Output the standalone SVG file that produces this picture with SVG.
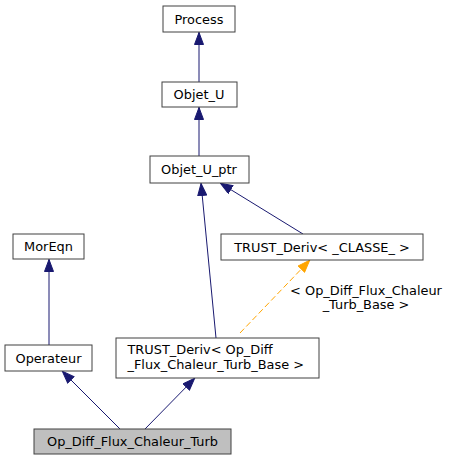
<svg xmlns="http://www.w3.org/2000/svg" width="451" height="460" viewBox="0 0 451 460">
<style>
.n rect{fill:#fff;stroke:#404040;stroke-width:1}
.n.h rect{fill:#bfbfbf}
text{font-family:"DejaVu Sans",sans-serif;font-size:12.9px;fill:#000}
.c{text-anchor:middle}
.e{fill:none;stroke:#191970;stroke-width:1}
.t{fill:none;stroke:#ffa500;stroke-width:1;stroke-dasharray:6,3}
</style>
<defs>
<marker id="a" viewBox="0 0 13 10" refX="13" refY="5" markerWidth="13" markerHeight="10" markerUnits="userSpaceOnUse" orient="auto"><path d="M0.5,0.5L12.5,5L0.5,9.5z" fill="#191970" stroke="#191970"/></marker>
<marker id="o" viewBox="0 0 13 10" refX="13" refY="5" markerWidth="13" markerHeight="10" markerUnits="userSpaceOnUse" orient="auto"><path d="M0.5,0.5L12.5,5L0.5,9.5z" fill="#ffa500" stroke="#ffa500"/></marker>
</defs>
<rect width="451" height="460" fill="#fff"/>
<g id="edges">
<line class="e" x1="199" y1="82" x2="199" y2="32" marker-end="url(#a)"/>
<line class="e" x1="199" y1="156" x2="199" y2="107" marker-end="url(#a)"/>
<line class="e" x1="216" y1="338" x2="201" y2="183" marker-end="url(#a)"/>
<line class="e" x1="303" y1="234" x2="220" y2="183" marker-end="url(#a)"/>
<line class="e" x1="49" y1="345" x2="49" y2="259" marker-end="url(#a)"/>
<line class="e" x1="120" y1="429" x2="62" y2="371" marker-end="url(#a)"/>
<line class="e" x1="145" y1="429" x2="195" y2="378" marker-end="url(#a)"/>
<line class="t" x1="240" y1="333" x2="310" y2="260" marker-end="url(#o)"/>
<text class="c" x="366" y="295">&lt; Op_Diff_Flux_Chaleur</text>
<text class="c" x="366" y="309">_Turb_Base &gt;</text>
</g>
<g id="process" class="n"><rect x="163" y="6" width="72" height="26"/><text class="c" x="199" y="23.5">Process</text></g>
<g id="objet_u" class="n"><rect x="162" y="82" width="75" height="25"/><text class="c" x="199" y="99">Objet_U</text></g>
<g id="objet_u_ptr" class="n"><rect x="150" y="156" width="99" height="27"/><text class="c" x="199" y="174">Objet_U_ptr</text></g>
<g id="moreqn" class="n"><rect x="13" y="234" width="71" height="25"/><text class="c" x="48.5" y="251">MorEqn</text></g>
<g id="trust_deriv_classe" class="n"><rect x="221" y="234" width="202" height="26"/><text class="c" x="322" y="251.5">TRUST_Deriv&lt; _CLASSE_ &gt;</text></g>
<g id="operateur" class="n"><rect x="5" y="345" width="87" height="26"/><text class="c" x="48.5" y="362.5">Operateur</text></g>
<g id="trust_deriv_op" class="n"><rect x="116" y="338" width="203" height="40"/><text x="127.5" y="354">TRUST_Deriv&lt; Op_Diff</text><text x="127.5" y="368.5">_Flux_Chaleur_Turb_Base &gt;</text></g>
<g id="op_diff_flux_chaleur_turb" class="n h"><rect x="34" y="429" width="197" height="25"/><text class="c" x="132.5" y="445.5">Op_Diff_Flux_Chaleur_Turb</text></g>
</svg>
